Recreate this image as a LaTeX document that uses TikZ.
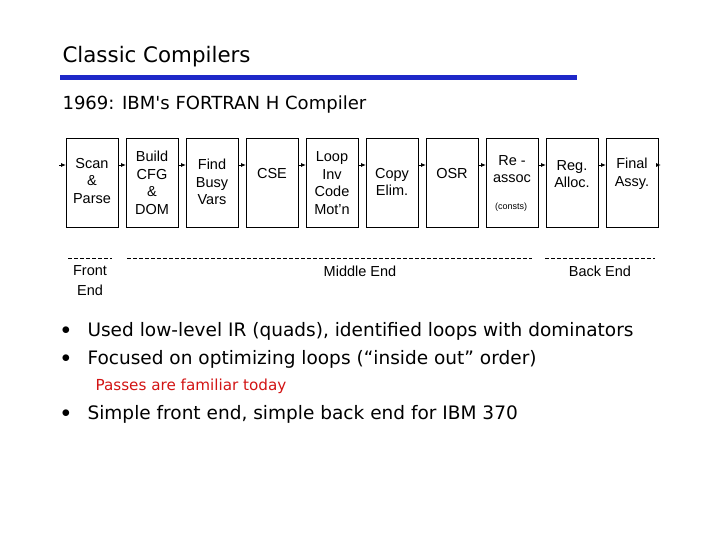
\documentclass[tikz,border=0pt]{standalone}
\usepackage{fontspec}
\setmainfont{Liberation Sans}
\newfontfamily\comic{DejaVu Sans}[Scale=0.95]
\usetikzlibrary{arrows.meta}
\definecolor{barblue}{RGB}{30,40,200}
\definecolor{redtxt}{RGB}{210,20,20}
\begin{document}
\begin{tikzpicture}[x=1pt,y=-1pt,
 box/.style={draw,line width=0.8pt,minimum width=52pt,minimum height=89pt,anchor=north west,inner sep=0pt},
 btxt/.style={font=\fontsize{14.5}{17.5}\selectfont,align=center},
 arr/.style={-{Latex[length=5pt,width=4pt]},line width=0.8pt},
 dsh/.style={dash pattern=on 4pt off 2pt,line width=0.6pt},
 lbl/.style={font=\fontsize{14.5}{20}\selectfont,align=center},
 bul/.style={font=\comic\fontsize{19.5}{22}\selectfont,anchor=west}]
\useasboundingbox (0,0) rectangle (720,540);
\node[anchor=west,font=\comic\fontsize{22.5}{26}\selectfont] (title) at (59,57) {Classic Compilers};
\fill[barblue] (60,75.5) rectangle (577,80.5);
\node[anchor=west,font=\comic\fontsize{19}{22}\selectfont] (sub) at (59,105) {1969: IBM's FORTRAN H Compiler};
\foreach \i in {0,...,9}{
  \node[box] (b\i) at ({66+60*\i},138) {};
}
\node[btxt] at (92,181) {Scan\\\&\\Parse};
\node[btxt] at (152,183) {Build\\CFG\\\&\\DOM};
\node[btxt] at (212,182) {Find\\Busy\\Vars};
\node[btxt] at (272,174) {CSE};
\node[btxt] at (332,183) {Loop\\Inv\\Code\\Mot'n};
\node[btxt] at (392,182) {Copy\\Elim.};
\node[btxt] at (452,174) {OSR};
\node[btxt] at (512,169) {Re -\\assoc};
\node[font=\fontsize{9}{10}\selectfont] at (511,207) {(consts)};
\node[btxt] at (572,174) {Reg.\\Alloc.};
\node[btxt] at (632,174) {Final\\Assy.};
\coordinate (in) at (59,165);
\coordinate (out) at (661,165);
\draw[arr] (in) -- (b0.west|-in);
\foreach \a/\b in {0/1,1/2,2/3,3/4,4/5,5/6,6/7,7/8,8/9}{
  \draw[arr] (b\a.east|-in) -- (b\b.west|-in);
}
\draw[arr] (b9.east|-in) -- (out);
\draw[dsh] (68,258) -- (112,258);
\draw[dsh] (127,258) -- (532,258);
\draw[dsh] (545,258) -- (655,258);
\node[lbl] (fe) at (90,281) {Front\\End};
\node[lbl] (me) at (360,271) {Middle End};
\node[lbl] (be) at (600,271) {Back End};
\node[anchor=west,font=\fontsize{17}{18}\selectfont] at (58,331) {$\bullet$};
\node[bul] (l1) at (84,331) {Used low-level IR (quads), identified loops with dominators};
\node[anchor=west,font=\fontsize{17}{18}\selectfont] at (58,359) {$\bullet$};
\node[bul] (l2) at (84,359) {Focused on optimizing loops (“inside out” order)};
\node[anchor=west,text=redtxt,font=\comic\fontsize{16}{18}\selectfont] (red) at (92,386) {Passes are familiar today};
\node[anchor=west,font=\fontsize{17}{18}\selectfont] at (58,414) {$\bullet$};
\node[bul] (l3) at (84,414) {Simple front end, simple back end for IBM 370};
\end{tikzpicture}
\end{document}
